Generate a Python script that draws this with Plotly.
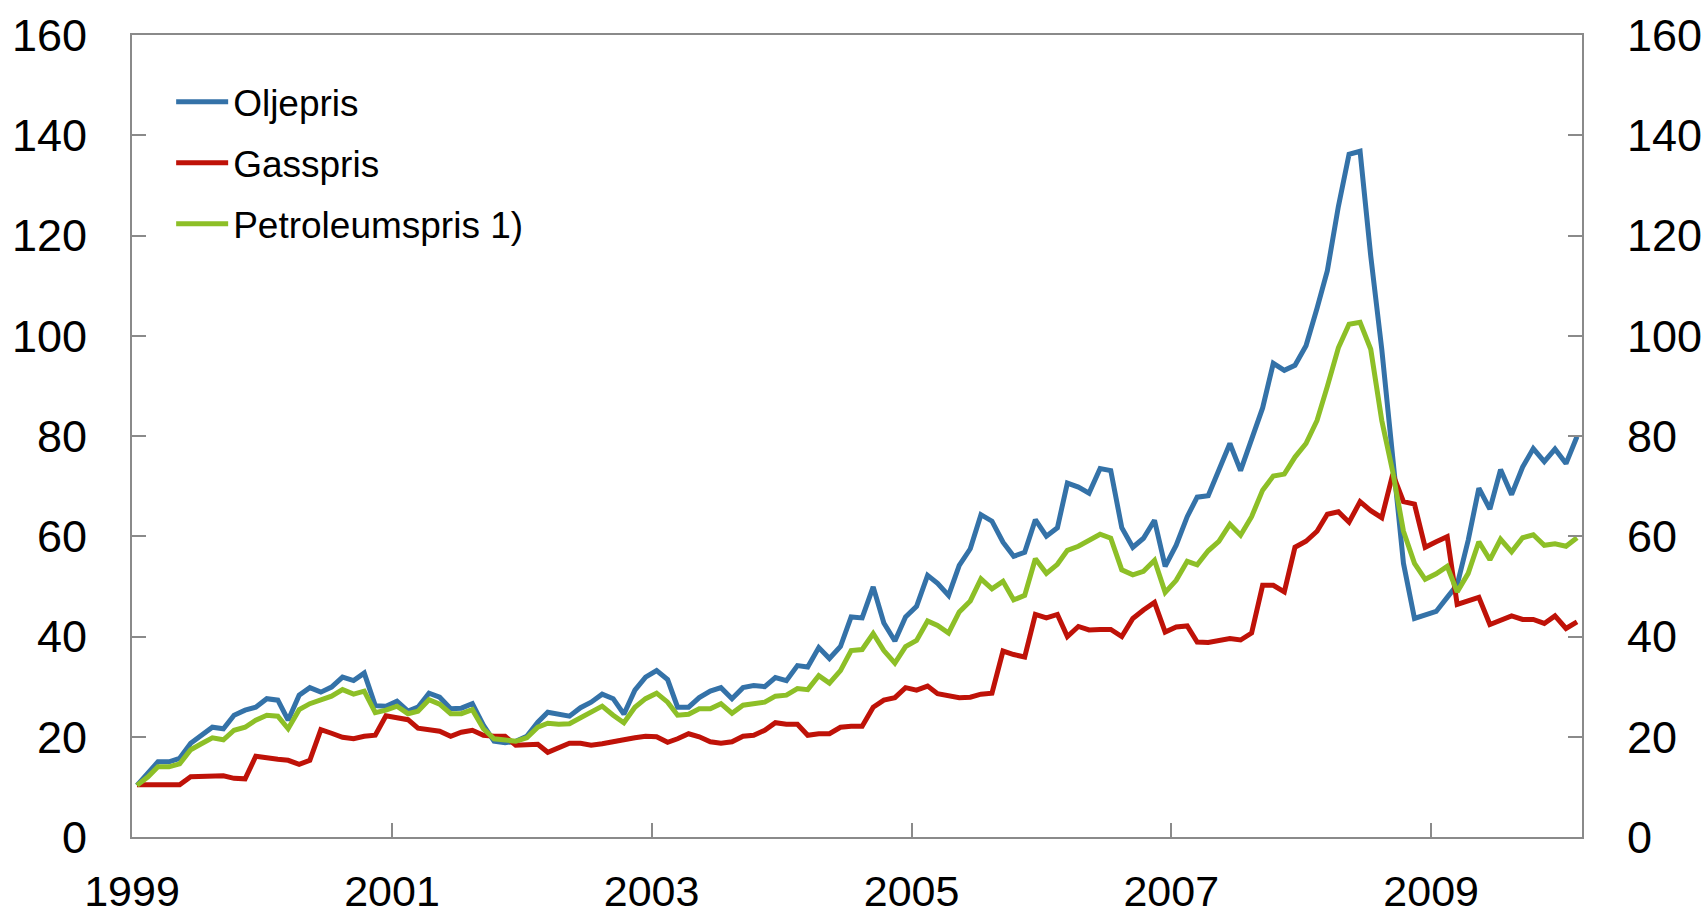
import plotly.graph_objects as go

start_year = 1999
n_months = 134

oljepris = [10.3, 12.7, 15.0, 15.0, 15.7, 18.7, 20.3, 21.9, 21.6, 24.3, 25.3, 25.9,
            27.6, 27.3, 23.3, 28.3, 29.8, 28.9, 29.9, 31.9, 31.2, 32.7, 26.2, 26.1,
            27.1, 25.1, 25.9, 28.7, 27.9, 25.6, 25.7, 26.6, 22.3, 19.1, 18.8, 19.1,
            20.1, 22.9, 24.9, 24.4, 24.1, 25.8, 26.9, 28.5, 27.6, 24.5, 29.3, 31.9,
            33.2, 31.4, 25.9, 25.9, 27.8, 29.1, 29.8, 27.6, 29.8, 30.2, 30.0, 31.8,
            31.2, 34.2, 33.9, 37.8, 35.6, 38.0, 43.9, 43.7, 49.9, 42.7, 39.1, 43.9,
            46.0, 52.2, 50.6, 48.2, 54.2, 57.5, 64.3, 63.0, 58.8, 56.0, 56.8, 63.3,
            60.0, 61.7, 70.6, 69.8, 68.6, 73.5, 73.1, 61.7, 57.8, 59.6, 63.2, 54.0,
            58.2, 63.9, 67.8, 68.1, 73.3, 78.5, 73.1, 79.2, 85.6, 94.5, 93.1, 94.1,
            98.0, 105.5, 113.0, 125.8, 136.2, 136.8, 115.9, 97.3, 74.5, 54.6, 43.6, 44.3,
            45.0, 47.8, 50.3, 59.2, 69.6, 65.4, 73.3, 68.3, 73.8, 77.5, 74.9, 77.4,
            74.5, 79.9]

gasspris = [10.4, 10.4, 10.5, 10.5, 10.4, 12.0, 12.1, 12.1, 12.2, 11.7, 11.6, 16.1,
            15.7, 15.5, 15.3, 14.5, 15.3, 21.4, 20.7, 19.9, 19.6, 20.1, 20.3, 24.2,
            23.8, 23.4, 21.7, 21.5, 21.1, 20.1, 20.9, 21.3, 20.3, 20.1, 20.1, 18.3,
            18.3, 18.5, 16.9, 17.8, 18.7, 18.7, 18.3, 18.6, 18.9, 19.4, 19.8, 20.1,
            20.0, 18.9, 19.6, 20.6, 20.0, 19.0, 18.7, 19.0, 20.1, 20.3, 21.3, 22.8,
            22.5, 22.5, 20.3, 20.6, 20.6, 21.9, 22.1, 22.1, 25.9, 27.3, 27.8, 29.8,
            29.3, 30.1, 28.6, 28.3, 27.8, 27.9, 28.5, 28.7, 37.1, 36.4, 35.9, 44.4,
            43.7, 44.4, 40.0, 42.0, 41.3, 41.4, 41.4, 40.0, 43.6, 45.3, 46.8, 40.9,
            41.9, 42.1, 38.9, 38.8, 39.1, 39.6, 39.3, 40.7, 50.2, 50.2, 48.9, 57.8,
            59.0, 61.0, 64.4, 64.9, 62.8, 66.9, 65.1, 63.7, 72.4, 66.9, 66.4, 57.8,
            58.9, 59.9, 46.4, 47.1, 47.8, 42.4, 43.2, 44.1, 43.4, 43.4, 42.6, 44.1,
            41.6, 42.9]

petroleumspris = [10.3, 12.0, 14.0, 14.0, 14.6, 17.4, 18.6, 19.8, 19.4, 21.3, 21.9, 23.3,
                  24.3, 24.1, 21.6, 25.4, 26.6, 27.3, 28.1, 29.4, 28.5, 29.1, 24.8, 25.3,
                  26.1, 24.6, 25.1, 27.4, 26.5, 24.6, 24.6, 25.4, 21.6, 19.6, 19.4, 19.1,
                  19.8, 21.9, 22.7, 22.5, 22.6, 23.8, 24.7, 26.1, 24.3, 22.8, 25.9, 27.6,
                  28.7, 26.9, 24.3, 24.5, 25.6, 25.6, 26.6, 24.7, 26.3, 26.5, 26.9, 28.1,
                  28.3, 29.6, 29.4, 32.2, 30.7, 33.2, 37.2, 37.4, 40.6, 37.2, 34.7, 38.0,
                  39.2, 43.1, 42.2, 40.7, 44.9, 47.1, 51.5, 49.5, 51.0, 47.3, 48.2, 55.5,
                  52.6, 54.4, 57.2, 58.0, 59.3, 60.4, 59.6, 53.3, 52.3, 53.0, 55.2, 48.8,
                  51.2, 55.0, 54.3, 57.1, 59.0, 62.4, 60.2, 63.9, 69.2, 72.0, 72.4, 75.8,
                  78.5, 83.1, 89.9, 97.6, 102.3, 102.7, 97.3, 83.1, 72.8, 61.0, 54.6, 51.4,
                  52.5, 54.0, 48.9, 52.6, 58.9, 55.3, 59.4, 56.9, 59.7, 60.3, 58.2, 58.5,
                  58.0, 59.7]

months = [f"{start_year + i // 12}-{i % 12 + 1:02d}-15" for i in range(n_months)]

tick_years = [1999, 2001, 2003, 2005, 2007, 2009]
tick_vals = [f"{y}-01-01" for y in tick_years]
tick_text = [str(y) for y in tick_years]
y_ticks = [0, 20, 40, 60, 80, 100, 120, 140, 160]

BLUE = "#3472a8"
RED = "#bf1208"
GREEN = "#8dbf27"
AXIS = "#8a8a8a"
FONT = "Liberation Sans, Arial, sans-serif"

fig = go.Figure()
fig.add_trace(go.Scatter(x=months, y=oljepris, name="Oljepris", mode="lines",
                         legendgroup="a", line=dict(color=BLUE, width=5)))
fig.add_trace(go.Scatter(x=months, y=gasspris, name="Gasspris", mode="lines",
                         legendgroup="b", line=dict(color=RED, width=5)))
fig.add_trace(go.Scatter(x=months, y=petroleumspris, name="Petroleumspris 1)", mode="lines",
                         legendgroup="c", line=dict(color=GREEN, width=5), yaxis="y2"))

common_y = dict(range=[0, 160], tickvals=y_ticks,
                ticks="inside", ticklen=14, tickwidth=2, tickcolor=AXIS,
                showline=True, linecolor=AXIS, linewidth=2,
                showgrid=False, zeroline=False, automargin=False,
                tickfont=dict(size=45, color="black"), ticklabelstandoff=34)

fig.update_layout(
    width=1707, height=917,
    margin=dict(l=132, r=125, t=35, b=80),
    paper_bgcolor="white", plot_bgcolor="white",
    font=dict(family=FONT, color="black"),
    showlegend=True,
    legend=dict(x=0.027, y=0.955, xanchor="left", yanchor="top",
                font=dict(size=37, color="black", family=FONT),
                bgcolor="rgba(0,0,0,0)", tracegroupgap=10, itemwidth=52,
                traceorder="grouped"),
    xaxis=dict(type="date", range=["1999-01-01", "2010-03-01"],
               tickvals=tick_vals, ticktext=tick_text,
               ticks="inside", ticklen=14, tickwidth=2, tickcolor=AXIS,
               showline=True, linecolor=AXIS, linewidth=2, mirror=True,
               showgrid=False, zeroline=False, automargin=False,
               tickfont=dict(size=43, color="black"), ticklabelstandoff=15),
    yaxis=dict(**common_y, mirror=True),
    yaxis2=dict(**common_y, overlaying="y", side="right"),
)

fig.write_html("out.html", config={"displayModeBar": False},
               post_script="document.body.style.margin='0';document.body.style.overflow='hidden';")
